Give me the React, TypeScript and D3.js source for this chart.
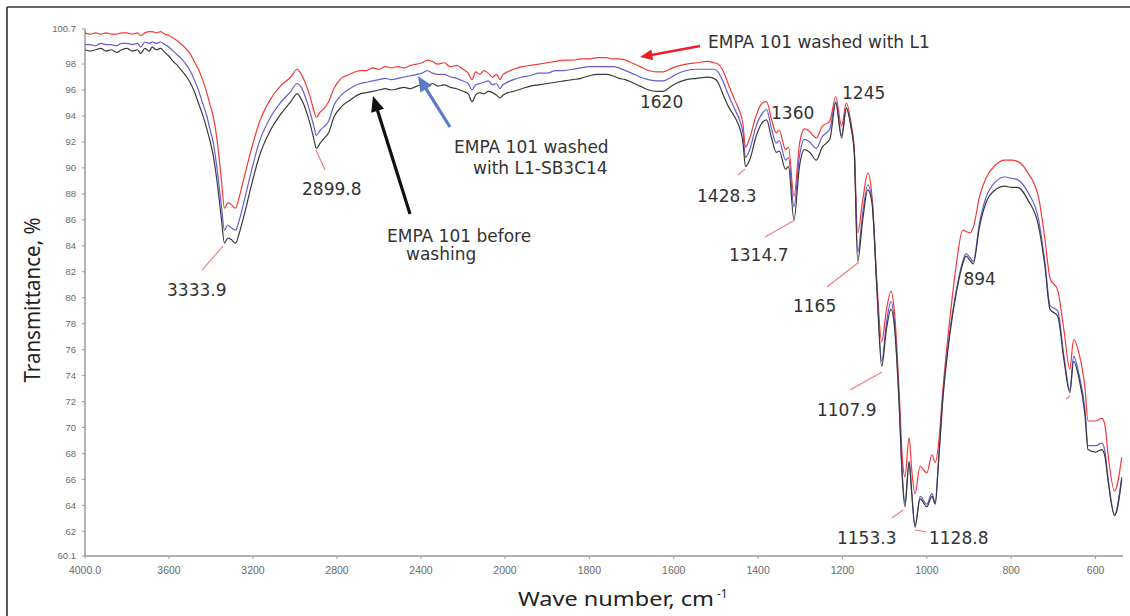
import React from 'react';
import * as d3 from 'd3';

const W = 1130;
const H = 616;

// wavenumber grid (cm-1)
const wavenumbers = [
  4000, 3975, 3950, 3925, 3900, 3875, 3850, 3825, 3800, 3775, 3750, 3734, 3715, 3695, 3680, 3660, 3640, 3620,
  3600, 3580, 3560, 3540, 3520, 3500, 3480, 3460, 3440, 3420, 3405, 3390, 3370, 3350, 3336, 3320, 3305, 3283,
  3265, 3240, 3210, 3170, 3120, 3070, 3020, 2990, 2970, 2945, 2925, 2910, 2898, 2880, 2860, 2840, 2815, 2780,
  2740, 2690, 2660, 2630, 2600, 2570, 2540, 2510, 2480, 2450, 2420, 2395, 2370, 2345, 2320, 2290, 2260, 2230,
  2200, 2175, 2157, 2140, 2120, 2100, 2080, 2060, 2040, 2024, 2010, 2000, 1980, 1960, 1940, 1920, 1900, 1880,
  1860, 1840, 1820, 1800, 1780, 1760, 1745, 1730, 1715, 1700, 1680, 1660, 1640, 1625, 1610, 1595, 1570, 1545,
  1520, 1505, 1495, 1485, 1470, 1455, 1442, 1436, 1430, 1420, 1405, 1390, 1380, 1368, 1357, 1350, 1335, 1328,
  1315, 1302, 1290, 1278, 1262, 1248, 1230, 1216, 1202, 1191, 1180, 1172, 1164, 1152, 1140, 1130, 1118, 1107,
  1096, 1085, 1076, 1066, 1058, 1052, 1042, 1036, 1028, 1016, 1000, 988, 980, 973, 962, 945, 930, 915,
  907, 898, 890, 875, 860, 838, 815, 800, 785, 760, 735, 720, 708, 690, 675, 661, 652, 640,
  625, 618, 600, 585, 578, 570, 555, 538,
];

// EMPA 101 before washing (black)
const beforeWashing = [
  99.1, 99.0, 99.1, 99.2, 99.0, 99.1, 98.9, 99.1, 99.2, 99.0, 99.1, 98.8, 99.2, 99.0, 99.3, 99.1, 99.2, 98.9,
  98.6, 98.2, 97.9, 97.5, 97.1, 96.6, 95.9, 95.0, 94.1, 93.0, 92.1, 91.0, 88.8, 86.0, 84.2, 84.6, 84.5, 84.2,
  85.0, 86.5, 88.5, 90.9, 92.8, 94.1, 95.1, 95.7, 95.3, 94.3, 93.2, 92.2, 91.5, 91.9, 92.3, 92.7, 93.9, 94.7,
  95.2, 95.7, 95.8, 95.9, 96.0, 96.1, 96.0, 96.1, 96.2, 96.1, 96.3, 96.4, 96.3, 96.5, 96.3, 96.4, 96.2, 96.1,
  95.9, 95.7, 95.1, 95.6, 95.8, 95.7, 95.9, 95.8, 95.6, 95.4, 95.6, 95.7, 95.9, 96.1, 96.3, 96.4, 96.5, 96.6,
  96.7, 96.8, 96.9, 97.1, 97.2, 97.2, 97.1, 96.9, 96.8, 96.6, 96.3, 96.0, 95.9, 95.9, 96.2, 96.5, 96.8, 96.9,
  97.0, 96.9, 96.6, 95.8, 94.7, 93.9, 92.9, 92.0, 90.1, 90.6, 92.4, 93.5, 93.7, 92.3, 91.2, 91.3, 89.9, 90.1,
  86.0, 90.1, 91.4, 91.2, 90.6, 91.6, 92.2, 95.0, 92.3, 94.6, 93.2, 91.2, 82.8, 86.0, 88.3, 87.3, 80.4, 74.7,
  77.5, 79.1, 77.5, 72.0, 66.0, 63.9, 67.3, 65.0, 62.4, 64.5, 63.9, 64.7, 64.1, 67.0, 72.2, 77.3, 80.4, 82.6,
  83.2, 82.9, 82.6, 85.5, 87.3, 88.3, 88.6, 88.5, 88.5, 87.5, 85.5, 82.4, 79.1, 78.6, 75.2, 72.7, 75.1, 73.9,
  70.9, 68.3, 68.1, 68.3, 67.8, 65.8, 63.2, 66.0,
];

// EMPA 101 washed with L1-SB3C14 (blue)
const washedL1SB3C14 = [
  99.5, 99.5, 99.4, 99.6, 99.5, 99.5, 99.4, 99.6, 99.6, 99.5, 99.6, 99.3, 99.7, 99.6, 99.7, 99.6, 99.7, 99.5,
  99.3, 99.0, 98.7, 98.4, 98.0, 97.5, 96.8, 96.0, 95.0, 94.0, 93.0, 92.0, 89.8, 87.0, 85.2, 85.6, 85.4, 85.2,
  86.0, 87.6, 89.6, 92.0, 93.8, 95.0, 95.9, 96.5, 96.2, 95.2, 94.1, 93.2, 92.5, 92.9, 93.2, 93.6, 94.8, 95.6,
  96.1, 96.5, 96.6, 96.7, 96.8, 96.9, 96.8, 96.9, 97.0, 97.1, 97.2, 97.3, 97.5, 97.3, 97.2, 97.2, 97.0, 96.9,
  96.7, 96.5, 96.0, 96.4, 96.5, 96.6, 96.7, 96.4, 96.5, 96.1, 96.4, 96.5, 96.8, 97.0, 97.1, 97.3, 97.3, 97.5,
  97.5, 97.6, 97.7, 97.8, 97.8, 97.8, 97.8, 97.7, 97.5, 97.3, 97.0, 96.8, 96.7, 96.7, 96.9, 97.2, 97.5, 97.6,
  97.6, 97.6, 97.4, 96.8, 95.6, 94.5, 93.5, 92.7, 90.8, 91.4, 93.2, 94.2, 94.5, 93.0, 91.9, 92.1, 90.6, 90.8,
  87.0, 90.9, 92.2, 92.0, 91.5, 92.4, 93.0, 95.1, 92.5, 94.6, 93.2, 91.2, 83.5, 86.5, 88.7, 87.5, 80.5, 75.1,
  78.0, 79.7, 77.8, 72.2, 66.3, 64.2, 67.4, 65.1, 62.3, 64.7, 64.1, 64.9, 64.2, 67.1, 72.4, 77.5, 80.6, 82.8,
  83.4, 83.1, 82.8, 85.8, 87.7, 88.9, 89.3, 89.2, 89.1, 88.1, 86.0, 82.7, 79.4, 79.0, 75.5, 72.9, 75.5, 74.2,
  71.3, 68.6, 68.6, 68.8, 68.2, 66.0, 63.3, 66.2,
];

// EMPA 101 washed with L1 (red)
const washedL1 = [
  100.4, 100.3, 100.4, 100.3, 100.4, 100.3, 100.3, 100.4, 100.4, 100.3, 100.4, 100.2, 100.4, 100.5, 100.5, 100.4, 100.5, 100.3,
  100.2, 100.0, 99.8, 99.5, 99.2, 98.8, 98.2, 97.6, 96.8, 95.8, 94.9, 94.0, 92.0, 89.0, 86.9, 87.3, 87.2, 86.9,
  87.8, 89.4, 91.3, 93.5, 95.2, 96.3, 97.0, 97.6, 97.2, 96.3, 95.3, 94.4, 93.9, 94.3, 94.6, 95.1, 96.1, 96.9,
  97.2, 97.5, 97.5, 97.7, 97.6, 97.8, 97.7, 97.8, 97.7, 97.9, 98.0, 98.1, 98.3, 98.2, 98.0, 98.1, 97.8, 97.9,
  97.6, 97.3, 96.8, 97.4, 97.2, 97.5, 97.3, 97.0, 97.2, 96.8, 97.2, 97.3, 97.6, 97.8, 97.9, 98.0, 98.1, 98.2,
  98.3, 98.3, 98.4, 98.4, 98.5, 98.5, 98.4, 98.4, 98.3, 98.1, 97.8, 97.5, 97.4, 97.4, 97.6, 97.8, 98.0, 98.1,
  98.2, 98.1, 98.0, 97.6, 96.4, 95.2, 94.2, 93.4, 91.6, 92.3, 94.0, 95.0, 95.1, 93.7, 92.7, 92.9, 91.4, 91.6,
  87.8, 91.8, 93.0, 92.8, 92.3, 93.2, 93.6, 95.5, 93.2, 95.0, 93.5, 91.4, 85.0, 87.5, 89.6, 87.8, 81.0, 76.6,
  79.0, 80.5, 78.6, 73.0, 67.6, 66.2, 69.2, 66.8, 64.9, 67.0, 66.5, 67.9, 67.3, 68.5, 72.9, 78.5, 82.6, 85.2,
  85.1, 85.0, 85.4, 87.8, 89.2, 90.2, 90.6, 90.6, 90.5, 89.6, 87.7, 84.5, 81.5, 80.6, 77.5, 74.5, 76.8, 75.8,
  73.0, 70.5, 70.5, 70.7, 70.2, 67.8, 65.1, 67.7,
];

const yTicks = [60.1, 62, 64, 66, 68, 70, 72, 74, 76, 78, 80, 82, 84, 86, 88, 90, 92, 94, 96, 98, 100.7];
const xTicks = [4000, 3600, 3200, 2800, 2400, 2000, 1800, 1600, 1400, 1200, 1000, 800, 600];
const xTickLabels = ['4000.0', '3600', '3200', '2800', '2400', '2000', '1800', '1600', '1400', '1200', '1000', '800', '600'];

// annotation texts: [text, wavenumber, transmittance]
const peakLabels: [string, number, number][] = [
  ['3333.9', 3609.5, 80.13],
  ['2899.8', 2966.6, 87.91],
  ['1620', 1680, 94.61],
  ['1428.3', 1544.8, 87.37],
  ['1360', 1369.3, 93.77],
  ['1245', 1201.1, 95.31],
  ['1314.7', 1469, 82.83],
  ['1165', 1317.3, 78.9],
  ['894', 913.2, 80.98],
  ['1107.9', 1260.4, 70.88],
  ['1153.3', 1213, 61.02],
  ['1128.8', 994.9, 61.02],
];

const seriesLabels: [string, number, number][] = [
  ['EMPA 101 before', 2561.9, 84.29],
  ['washing', 2471.4, 82.9],
  ['EMPA 101 washed', 2242.8, 91.15],
  ['with L1-SB3C14', 2152.3, 89.53],
  ['EMPA 101 washed with L1', 1518.8, 99.24],
];

// leader lines: [wn1, t1, wn2, t2]
const leaders: [number, number, number, number][] = [
  [3442.8, 82.13, 3342.8, 83.98],
  [2857, 89.84, 2900, 91.38],
  [1447.7, 89.45, 1431.1, 89.91],
  [1383.6, 84.68, 1312.5, 85.99],
  [1236.7, 80.82, 1160.8, 82.75],
  [1182.1, 72.89, 1106.2, 74.27],
  [1082.5, 63.03, 1056.5, 63.64],
  [1028, 62.1, 999.5, 61.95],
  [670.1, 72.2, 660.6, 72.43],
];

// arrows: [wnTail, tTail, wnTip, tTip, colour, width]
const arrows: [number, number, number, number, string, number][] = [
  [2452.4, 86.45, 2628.5, 95.54, '#111111', 3.2],
  [2261.9, 93.15, 2414.3, 97.08, '#5b7cc4', 3.2],
  [1537.7, 99.39, 1680, 98.54, '#e8202a', 2.6],
];

const x = d3.scaleLinear().domain([4000, 2000, 535]).range([85, 505, 1123]);
const y = d3.scaleLinear().domain([60.1, 100.7]).range([556, 29]);

const series = [
  { name: 'EMPA 101 washed with L1', values: washedL1, color: '#f23a3a' },
  { name: 'EMPA 101 washed with L1-SB3C14', values: washedL1SB3C14, color: '#6a5bd0' },
  { name: 'EMPA 101 before washing', values: beforeWashing, color: '#3a3a3a' },
];

const line = d3
  .line<[number, number]>()
  .x((d) => x(d[0]))
  .y((d) => y(d[1]))
  .curve(d3.curveMonotoneX);

function Arrow({ a }: { a: [number, number, number, number, string, number] }) {
  const [w1, t1, w2, t2, color, sw] = a;
  const x1 = x(w1), y1 = y(t1), x2 = x(w2), y2 = y(t2);
  const dx = x2 - x1, dy = y2 - y1;
  const len = Math.hypot(dx, dy);
  const ux = dx / len, uy = dy / len;
  const L = sw * 4.8, HW = sw * 2.1;
  const bx = x2 - ux * L, by = y2 - uy * L;
  const nx = -uy, ny = ux;
  const pts = `${x2},${y2} ${bx + nx * HW},${by + ny * HW} ${bx - nx * HW},${by - ny * HW}`;
  return (
    <g>
      <line x1={x1} y1={y1} x2={bx + ux} y2={by + uy} stroke={color} strokeWidth={sw} />
      <polygon points={pts} fill={color} />
    </g>
  );
}

export default function App() {
  const fontLbl = '"DejaVu Sans", Verdana, sans-serif';
  return (
    <svg
      width={W}
      height={H}
      viewBox={`0 0 ${W} ${H}`}
      style={{ position: 'absolute', left: 0, top: 0, display: 'block', background: '#fff' }}
    >
      <rect x={0} y={0} width={W} height={H} fill="#ffffff" />
      {/* frame */}
      <line x1={7} y1={7} x2={W} y2={7} stroke="#333" strokeWidth={1.6} />
      <line x1={7} y1={7} x2={7} y2={H} stroke="#333" strokeWidth={1.6} />

      {/* axes */}
      <line x1={x(4000)} y1={y(100.7)} x2={x(4000)} y2={y(60.1)} stroke="#9a9a9a" strokeWidth={1.5} />
      <line x1={x(4000)} y1={y(60.1)} x2={x(535)} y2={y(60.1)} stroke="#9a9a9a" strokeWidth={1.5} />
      {yTicks.map((t) => (
        <g key={'y' + t}>
          <line x1={x(4000) - 3} x2={x(4000)} y1={y(t)} y2={y(t)} stroke="#9a9a9a" strokeWidth={1} />
          <text
            x={x(4000) - 9}
            y={y(t)}
            dy="0.35em"
            textAnchor="end"
            fontFamily='"Liberation Sans", Arial, sans-serif'
            fontSize={9.5}
            fill="#6a6a6a"
          >
            {String(t)}
          </text>
        </g>
      ))}
      {xTicks.map((v, i) => (
        <g key={'x' + v}>
          <line x1={x(v)} x2={x(v)} y1={y(60.1)} y2={y(60.1) + 3} stroke="#9a9a9a" strokeWidth={1} />
          <text
            x={x(v)}
            y={574}
            textAnchor="middle"
            fontFamily='"Liberation Sans", Arial, sans-serif'
            fontSize={10.5}
            fill="#6a6a6a"
          >
            {xTickLabels[i]}
          </text>
        </g>
      ))}

      {/* axis titles */}
      <text
        transform="translate(40,300) rotate(-90)"
        textAnchor="middle"
        fontFamily='"Noto Sans", "Open Sans", sans-serif'
        fontSize={22}
        fill="#222"
        textLength={165}
        lengthAdjust="spacingAndGlyphs"
      >
        Transmittance, %
      </text>
      <text x={518} y={606} fontFamily='"Noto Sans", "Open Sans", sans-serif' fontSize={19} fill="#222">
        <tspan textLength={196} lengthAdjust="spacingAndGlyphs">Wave number, cm</tspan>
      </text>
      <text x={717} y={598} fontFamily='"Noto Sans", "Open Sans", sans-serif' fontSize={12} fill="#222">
        -1
      </text>

      {/* spectra */}
      {series.map((s) => (
        <path
          key={s.name}
          d={line(wavenumbers.map((w, i) => [w, s.values[i]] as [number, number])) || ''}
          fill="none"
          stroke={s.color}
          strokeWidth={1.2}
          strokeLinejoin="round"
        />
      ))}

      {/* leader lines */}
      {leaders.map((l, i) => (
        <line
          key={'l' + i}
          x1={x(l[0])}
          y1={y(l[1])}
          x2={x(l[2])}
          y2={y(l[3])}
          stroke="#f27a7a"
          strokeWidth={1.1}
        />
      ))}

      {/* arrows */}
      {arrows.map((a, i) => (
        <Arrow key={'a' + i} a={a} />
      ))}

      {/* labels */}
      {peakLabels.map(([t, w, v]) => (
        <text key={'p' + t} x={x(w)} y={y(v)} fontFamily={fontLbl} fontSize={17} fill="#333">
          {t}
        </text>
      ))}
      {seriesLabels.map(([t, w, v]) => (
        <text key={'s' + t} x={x(w)} y={y(v)} fontFamily={fontLbl} fontSize={17} fill="#333">
          {t}
        </text>
      ))}
    </svg>
  );
}
